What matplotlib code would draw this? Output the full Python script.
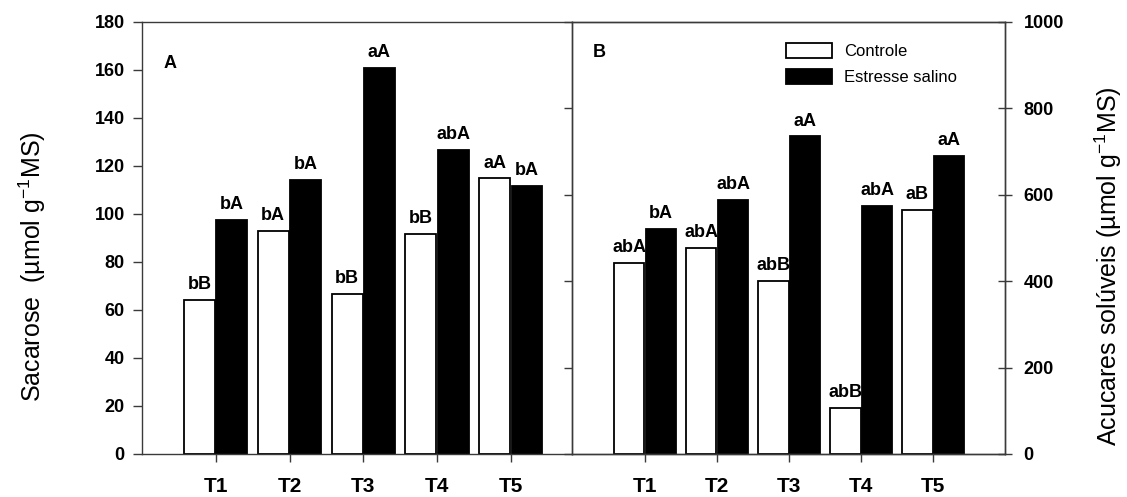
import matplotlib
matplotlib.use("Agg")
import matplotlib.pyplot as plt
import numpy as np

plt.rcParams['font.family'] = ['Liberation Sans', 'DejaVu Sans']
plt.rcParams['mathtext.fontset'] = 'custom'
plt.rcParams['mathtext.rm'] = 'Liberation Sans'
plt.rcParams['mathtext.it'] = 'Liberation Sans:italic'
plt.rcParams['mathtext.bf'] = 'Liberation Sans:bold'

categories = ["T1", "T2", "T3", "T4", "T5"]
series_names = ["Controle", "Estresse salino"]

# Panel A: Sacarose
sac_controle = [64, 92.8, 66.7, 91.6, 114.8]
sac_estresse = [97.4, 114.3, 160.8, 126.8, 111.8]
sac_lab_controle = ["bB", "bA", "bB", "bB", "aA"]
sac_lab_estresse = ["bA", "bA", "aA", "abA", "bA"]

# Panel B: Acucares soluveis
acu_controle = [442, 478, 400, 107, 564]
acu_estresse = [521, 587, 735, 574, 690]
acu_lab_controle = ["abA", "abA", "abB", "abB", "aB"]
acu_lab_estresse = ["bA", "abA", "aA", "abA", "aA"]

W, H = 1127, 497
fig = plt.figure(figsize=(W / 100, H / 100), dpi=100)
bot = 1 - 454 / H
hgt = (454 - 22) / H
axA = fig.add_axes([142 / W, bot, (572 - 142) / W, hgt])
axB = fig.add_axes([572 / W, bot, (1005 - 572) / W, hgt])

spine_col = '#3a3a3a'
x = np.arange(1, len(categories) + 1)
bw = 0.42
off = 0.22


def draw(ax, ctrl, est, lc, le):
    b1 = ax.bar(x - off, ctrl, bw, color='white', edgecolor='black', linewidth=1.3, zorder=2)
    b2 = ax.bar(x + off, est, bw, color='black', edgecolor='black', linewidth=1.3, zorder=2)
    for xi, v, t in zip(x - off, ctrl, lc):
        ax.annotate(t, (xi, v), xytext=(0, 5), textcoords='offset points',
                    ha='center', va='bottom', fontsize=13, fontweight='bold')
    for xi, v, t in zip(x + off, est, le):
        ax.annotate(t, (xi, v), xytext=(0, 5), textcoords='offset points',
                    ha='center', va='bottom', fontsize=13, fontweight='bold')
    ax.set_xticks(x)
    ax.set_xticklabels(categories, fontsize=15, fontweight='bold')
    ax.tick_params(axis='x', direction='out', length=5.8, width=1, color=spine_col, pad=11)
    for s in ax.spines.values():
        s.set_color(spine_col)
        s.set_linewidth(1.0)
    return b1, b2


draw(axA, sac_controle, sac_estresse, sac_lab_controle, sac_lab_estresse)
b1, b2 = draw(axB, acu_controle, acu_estresse, acu_lab_controle, acu_lab_estresse)

axA.set_xlim(0, 5.83)
axA.set_ylim(0, 180)
axA.set_yticks(np.arange(0, 181, 20))
axA.tick_params(axis='y', direction='out', length=6.5, width=1, color=spine_col, pad=6, labelsize=13)
for lab in axA.get_yticklabels():
    lab.set_fontweight('bold')
axA.spines['right'].set_visible(False)

axB.set_xlim(-0.015, 5.995)
axB.set_ylim(0, 1000)
axB.set_yticks(np.arange(0, 1001, 200))
axB.tick_params(axis='y', left=True, right=False, labelleft=False, labelright=False,
                direction='out', length=6, width=1, color=spine_col)

# right-hand axis of panel B (ticks crossing the spine, labelled)
axR = axB.twinx()
axR.set_ylim(axB.get_ylim())
axR.set_yticks(np.arange(0, 1001, 200))
axR.tick_params(axis='y', direction='inout', length=9.4, width=1, color=spine_col,
                pad=8.6, labelsize=13)
for lab in axR.get_yticklabels():
    lab.set_fontweight('bold')
for s in axR.spines.values():
    s.set_color(spine_col)
    s.set_linewidth(1.0)

axA.text(0.049, 0.905, "A", transform=axA.transAxes, fontsize=13, fontweight='bold',
         ha='left', va='center')
axB.text(0.048, 0.93, "B", transform=axB.transAxes, fontsize=13, fontweight='bold',
         ha='left', va='center')

axR.legend([b1, b2], series_names, loc='upper left', bbox_to_anchor=(0.495, 0.952),
           frameon=False, fontsize=12, handlelength=2.75, handleheight=1.0,
           handletextpad=0.7, labelspacing=0.62, borderpad=0, borderaxespad=0)

fig.text(32 / W, 1 - 267 / H, "Sacarose  (µmol g$^{-1}$MS)", rotation=90,
         ha='center', va='center', fontsize=18)
fig.text(1108 / W, 1 - 266 / H, "Acucares solúveis (µmol g$^{-1}$MS)", rotation=90,
         ha='center', va='center', fontsize=18)

fig.savefig("out.png", dpi=100)
